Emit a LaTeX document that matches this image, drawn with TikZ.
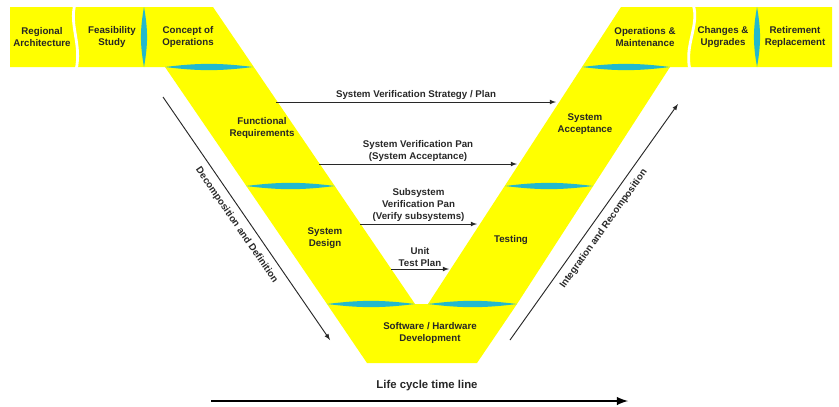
\documentclass[tikz,border=0pt]{standalone}
\usepackage{fontspec}
\setmainfont{Liberation Sans}
\usetikzlibrary{shapes.geometric, arrows}
\definecolor{vyellow}{RGB}{255,255,0}
\definecolor{lenscyan}{RGB}{35,185,205}
\definecolor{inkgray}{RGB}{40,40,40}
\tikzstyle{stylestage} = [align=center, inner sep=0pt, text=black!85, font=\bfseries\fontsize{8.3}{10.2}\selectfont]
\tikzstyle{styleplan} = [->, >=latex, draw=inkgray, line width=0.8pt]
\tikzstyle{stylelabel} = [align=center, inner sep=1.5pt, text=inkgray, font=\bfseries\fontsize{8.3}{10.2}\selectfont]
\tikzstyle{stylelens} = [fill=lenscyan]
\tikzstyle{stylegap} = [draw=white, line width=2.4pt]

\begin{document}
\begin{tikzpicture}[x=0.03cm, y=-0.03cm, node distance=2.1cm]
\useasboundingbox (0,0) rectangle (839,406);

% the V
\fill[vyellow] (10,7) -- (213,7) -- (415,304) -- (428,304) -- (621,7) -- (832,7) -- (832,67)
  -- (670,67) -- (517,304) -- (477,363) -- (367,363) -- (327,304) -- (165,67) -- (10,67) -- cycle;
\draw[stylegap] (75,4) .. controls (69,25) and (82,45) .. (76,70);
\draw[stylegap] (693,4) .. controls (700,25) and (684,45) .. (690,70);

% cyan separators
\foreach \xa/\xb/\yy in {165/253/67, 582/670/67, 246/335/186, 505/593/186, 327/415/304, 428/517/304}
  \fill[stylelens] (\xa,\yy) to[bend left=7] (\xb,\yy) to[bend left=7] (\xa,\yy) -- cycle;
\foreach \xx in {144,757}
  \fill[stylelens] (\xx,7) to[bend left=10] (\xx,67) to[bend left=10] (\xx,7) -- cycle;

% stages
\node (regarch) [stylestage] at (42,37) {Regional\\Architecture};
\node (feas) [stylestage, right of=regarch] {Feasibility\\Study};
\node (conops) [stylestage, right of=feas, xshift=0.18cm] {Concept of\\Operations};
\node (funcreq) [stylestage] at (262,128) {Functional\\Requirements};
\node (sysdes) [stylestage] at (325,238) {System\\Design};
\node (swhw) [stylestage] at (430,333) {Software / Hardware\\Development};
\node (testing) [stylestage] at (511,240) {Testing};
\node (sysacc) [stylestage] at (585,124) {System\\Acceptance};
\node (opsmaint) [stylestage] at (645,37) {Operations \&\\Maintenance};
\node (changes) [stylestage, right of=opsmaint, xshift=0.24cm] {Changes \&\\Upgrades};
\node (retire) [stylestage, right of=changes, xshift=0.06cm] {Retirement\\Replacement};

% verification plans
\coordinate (p1s) at (276,102); \coordinate (p1e) at (556,102);
\coordinate (p2s) at (319,164); \coordinate (p2e) at (517,164);
\coordinate (p3s) at (360,224); \coordinate (p3e) at (477,224);
\coordinate (p4s) at (391,269); \coordinate (p4e) at (449,269);
\draw[styleplan] (p1s) -- node[stylelabel, above] {System Verification Strategy / Plan} (p1e);
\draw[styleplan] (p2s) -- node[stylelabel, above] {System Verification Pan\\(System Acceptance)} (p2e);
\draw[styleplan] (p3s) -- node[stylelabel, above] {Subsystem\\Verification Pan\\(Verify subsystems)} (p3e);
\draw[styleplan] (p4s) -- node[stylelabel, above] {Unit\\Test Plan} (p4e);

% side arrows
\coordinate (decs) at (163,97); \coordinate (dece) at (330,340);
\coordinate (ints) at (510,340); \coordinate (inte) at (678,104);
\draw[styleplan] (decs) -- node[stylelabel, sloped, below, inner sep=6pt] {Decomposition and Definition} (dece);
\draw[styleplan] (ints) -- node[stylelabel, sloped, below, inner sep=6pt] {Integration and Recomposition} (inte);

% time line
\node (lifeline) [text=black!85, font=\bfseries\fontsize{9.7}{11}\selectfont] at (427,386) {Life cycle time line};
\coordinate (tls) at (211,401); \coordinate (tle) at (628,401);
\draw[->, >=latex, line width=2.2pt] (tls) -- (tle);

\end{tikzpicture}
\end{document}
